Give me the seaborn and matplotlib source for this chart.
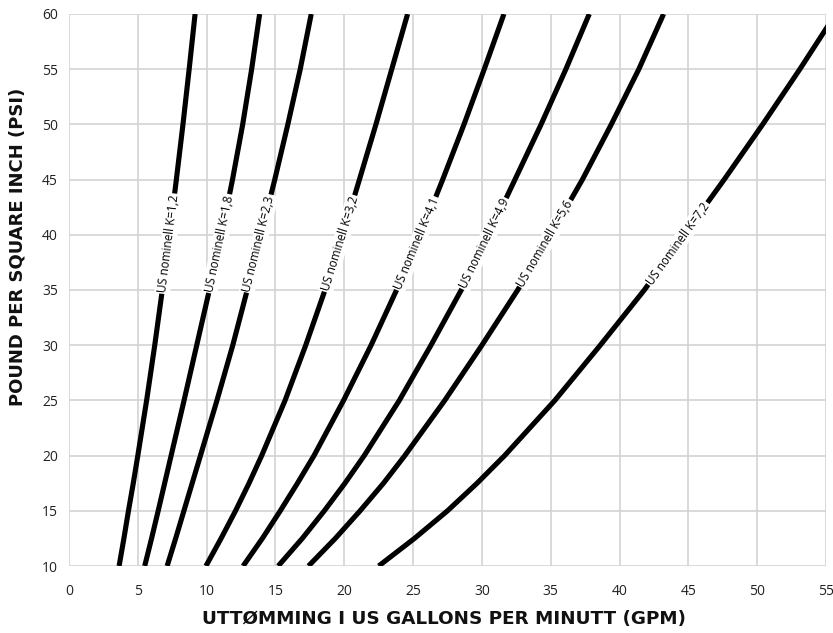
import numpy as np
import matplotlib
matplotlib.use("Agg")
import matplotlib.pyplot as plt
import pandas as pd
import seaborn as sns

# trykk (PSI) og avlest uttømming (GPM) for hver K-kurve
psi = [10, 12.5, 15, 17.5, 20, 25, 30, 35, 40, 45, 50, 55, 60]
k_names = ["1,2", "1,8", "2,3", "3,2", "4,1", "4,9", "5,6", "7,2"]
gpm_k12 = [3.64, 3.99, 4.32, 4.67, 5.0, 5.64, 6.23, 6.78, 7.3, 7.8, 8.28, 8.73, 9.16]
gpm_k18 = [5.5, 6.0, 6.48, 6.95, 7.42, 8.36, 9.28, 10.2, 11.07, 11.88, 12.62, 13.27, 13.85]
gpm_k23 = [7.13, 7.75, 8.35, 8.95, 9.55, 10.75, 11.9, 12.95, 13.95, 14.95, 15.9, 16.8, 17.6]
gpm_k32 = [9.95, 11.05, 12.1, 13.08, 14.0, 15.7, 17.2, 18.6, 19.9, 21.1, 22.3, 23.45, 24.6]
gpm_k41 = [12.65, 14.05, 15.35, 16.6, 17.8, 19.95, 21.95, 23.8, 25.55, 27.15, 28.7, 30.17, 31.6]
gpm_k49 = [15.2, 16.95, 18.55, 20.05, 21.45, 24.0, 26.3, 28.5, 30.5, 32.4, 34.3, 36.1, 37.8]
gpm_k56 = [17.4, 19.35, 21.15, 22.85, 24.4, 27.3, 30.0, 32.6, 35.0, 37.3, 39.4, 41.4, 43.2]
gpm_k72 = [22.5, 25.1, 27.5, 29.65, 31.65, 35.3, 38.6, 41.8, 44.7, 47.6, 50.4, 53.1, 55.7]
curves = [gpm_k12, gpm_k18, gpm_k23, gpm_k32, gpm_k41, gpm_k49, gpm_k56, gpm_k72]

x_ticks = [0, 5, 10, 15, 20, 25, 30, 35, 40, 45, 50, 55]
y_ticks = [10, 15, 20, 25, 30, 35, 40, 45, 50, 55, 60]

rows = []
for name, gpm in zip(k_names, curves):
    for p, q in zip(psi, gpm):
        rows.append({"K": name, "psi": p, "gpm": q})
df = pd.DataFrame(rows)

sns.set_style("whitegrid")
plt.rcParams["font.family"] = ["Open Sans", "DejaVu Sans"]

fig = plt.figure(figsize=(8.33, 6.33), dpi=100)
ax = fig.add_axes([69 / 833, 1 - 566 / 633, 757 / 833, 552 / 633])

sns.lineplot(data=df, x="gpm", y="psi", hue="K", palette=["black"] * len(k_names),
             sort=False, estimator=None, legend=False, linewidth=3.7, ax=ax,
             solid_joinstyle="round", solid_capstyle="butt")

ax.set_xlim(0, 55)
ax.set_ylim(10, 60)
ax.set_xticks(x_ticks)
ax.set_yticks(y_ticks)
ax.grid(True, color="#d3d3d3", linewidth=1.2)
ax.set_axisbelow(True)
for s in ax.spines.values():
    s.set_visible(False)
ax.tick_params(axis="both", length=5, width=1.2, color="#d3d3d3",
               labelsize=10, labelcolor="#222222")
ax.tick_params(axis="x", pad=8)
ax.tick_params(axis="y", pad=3)

# kurveetiketter langs linjene
for name, gpm in zip(k_names, curves):
    xm = np.interp(39.2, psi, gpm)
    x1 = np.interp(35, psi, gpm)
    x2 = np.interp(45, psi, gpm)
    ang = np.degrees(np.arctan2(10, x2 - x1))
    ax.text(xm, 39.2, f"US nominell K={name}", fontsize=8.4, color="black",
            ha="center", va="center", rotation=ang, rotation_mode="anchor",
            transform_rotates_text=True,
            bbox=dict(boxstyle="square,pad=0.12", fc="white", ec="none"))

ax.set_xlabel("UTTØMMING I US GALLONS PER MINUTT (GPM)", fontsize=13.2,
              fontweight="bold", family="DejaVu Sans", color="#111111", va="center")
ax.set_ylabel("POUND PER SQUARE INCH (PSI)", fontsize=13.0,
              fontweight="bold", family="DejaVu Sans", color="#111111", va="center")
ax.xaxis.set_label_coords((444 - 69) / 757, (566 - 619) / 552)
ax.yaxis.set_label_coords((18 - 69) / 757, (566 - 247) / 552)

fig.savefig("out.png", dpi=100)
